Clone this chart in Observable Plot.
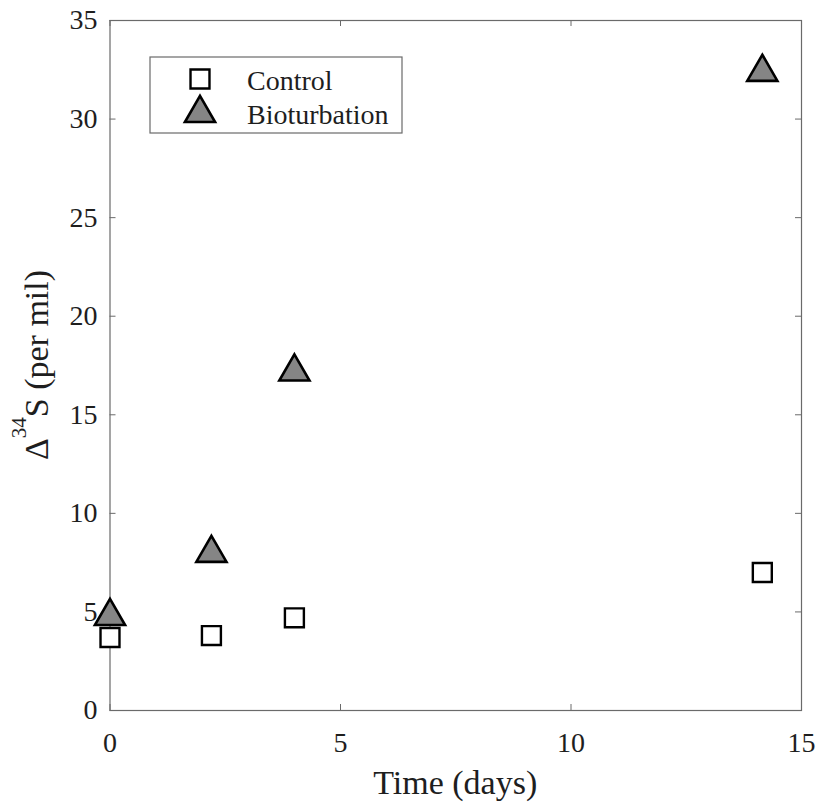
<!DOCTYPE html>
<html>
<head>
<meta charset="utf-8">
<script src="https://cdn.jsdelivr.net/npm/d3@7"></script>
<script src="https://cdn.jsdelivr.net/npm/@observablehq/plot@0.6"></script>
<style>
  html, body { margin: 0; padding: 0; background: #fff; }
  #chart svg { display: block; }
  #chart svg text, #chart svg tspan { font-family: "Liberation Serif", "Times New Roman", serif; }
</style>
</head>
<body>
<div id="chart"></div>
<script>
// ---- data ----
const seriesNames = ["Control", "Bioturbation"];
const timeDays = [0, 2.2, 4, 14.15];
const controlValues = [3.7, 3.8, 4.7, 7.0];
const bioturbationValues = [5.0, 8.2, 17.4, 32.6];
const xTicks = [0, 5, 10, 15];
const yTicks = [0, 5, 10, 15, 20, 25, 30, 35];
const xLabel = "Time (days)";

const control = timeDays.map((t, i) => ({time: t, value: controlValues[i], series: seriesNames[0]}));
const bioturbation = timeDays.map((t, i) => ({time: t, value: bioturbationValues[i], series: seriesNames[1]}));

// triangle centred on its bounding box (like MATLAB '^')
const triangleUp = {
  draw(context, size) {
    const s = Math.sqrt(4 * size / Math.sqrt(3));
    const h = s * Math.sqrt(3) / 2;
    context.moveTo(0, -h / 2);
    context.lineTo(s / 2, h / 2);
    context.lineTo(-s / 2, h / 2);
    context.closePath();
  }
};

const W = 827, H = 805;
const mL = 109.5, mR = 26, mT = 20, mB = 95;
const pw = W - mL - mR, ph = H - mT - mB;
const tickLen = 6;
const frameColor = "#6a6a6a";
const textColor = "#1e1e1e";
const serif = "Liberation Serif, Times New Roman, serif";

const plot = Plot.plot({
  width: W,
  height: H,
  marginLeft: mL,
  marginRight: mR,
  marginTop: mT,
  marginBottom: mB,
  style: {fontFamily: serif, background: "#fff", color: textColor},
  x: {domain: [0, 15]},
  y: {domain: [0, 35]},
  marks: [
    // inward ticks on all four sides
    Plot.ruleX(xTicks, {x: d => d, insetTop: ph - tickLen, stroke: frameColor, strokeWidth: 1}),
    Plot.ruleX(xTicks, {x: d => d, insetBottom: ph - tickLen, stroke: frameColor, strokeWidth: 1}),
    Plot.ruleY(yTicks, {y: d => d, insetRight: pw - tickLen, stroke: frameColor, strokeWidth: 1}),
    Plot.ruleY(yTicks, {y: d => d, insetLeft: pw - tickLen, stroke: frameColor, strokeWidth: 1}),
    Plot.frame({stroke: frameColor, strokeWidth: 1.2}),
    Plot.axisX(xTicks, {tickSize: 0, tickPadding: 22, fontSize: 28, fontFamily: serif, label: null, fill: textColor}),
    Plot.axisY(yTicks, {tickSize: 0, tickPadding: 12.5, fontSize: 28, fontFamily: serif, label: null, fill: textColor}),
    Plot.dot(bioturbation, {x: "time", y: "value", symbol: triangleUp, r: 11.2, fill: "#858585", stroke: "#000", strokeWidth: 2.6}),
    Plot.dot(control, {x: "time", y: "value", symbol: "square", r: 10.7, fill: "#fff", stroke: "#000", strokeWidth: 2.4})
  ]
});

document.getElementById("chart").appendChild(plot);

// axis titles and legend
const svg = d3.select(plot);

svg.append("text")
  .attr("x", mL + pw / 2).attr("y", 794)
  .attr("text-anchor", "middle")
  .style("font-family", serif).style("font-size", "34px").attr("fill", textColor)
  .text(xLabel);

const yl = svg.append("text")
  .attr("transform", `translate(48,${mT + ph / 2}) rotate(-90)`)
  .attr("text-anchor", "middle")
  .style("font-family", serif).style("font-size", "34px").attr("fill", textColor);
yl.append("tspan").text("\u0394");
yl.append("tspan").style("font-size", "21px").attr("dy", -22).text("34");
yl.append("tspan").attr("dy", 22).text("S (per mil)");

const lg = svg.append("g");
lg.append("rect").attr("x", 150).attr("y", 57).attr("width", 252).attr("height", 76)
  .attr("fill", "#fff").attr("stroke", frameColor).attr("stroke-width", 1.2);
const sq = d3.symbol(d3.symbolSquare, Math.PI * 10.7 * 10.7);
lg.append("path").attr("d", sq()).attr("transform", "translate(200,79)")
  .attr("fill", "#fff").attr("stroke", "#000").attr("stroke-width", 2.4);
const tri = d3.symbol(triangleUp, Math.PI * 11.2 * 11.2);
lg.append("path").attr("d", tri()).attr("transform", "translate(200,109)")
  .attr("fill", "#858585").attr("stroke", "#000").attr("stroke-width", 2.6);
lg.append("text").attr("x", 247).attr("y", 90).attr("text-anchor", "start")
  .style("font-family", serif).style("font-size", "28px").attr("fill", textColor).text(seriesNames[0]);
lg.append("text").attr("x", 247).attr("y", 124).attr("text-anchor", "start")
  .style("font-family", serif).style("font-size", "28px").attr("fill", textColor).text(seriesNames[1]);
</script>
</body>
</html>
